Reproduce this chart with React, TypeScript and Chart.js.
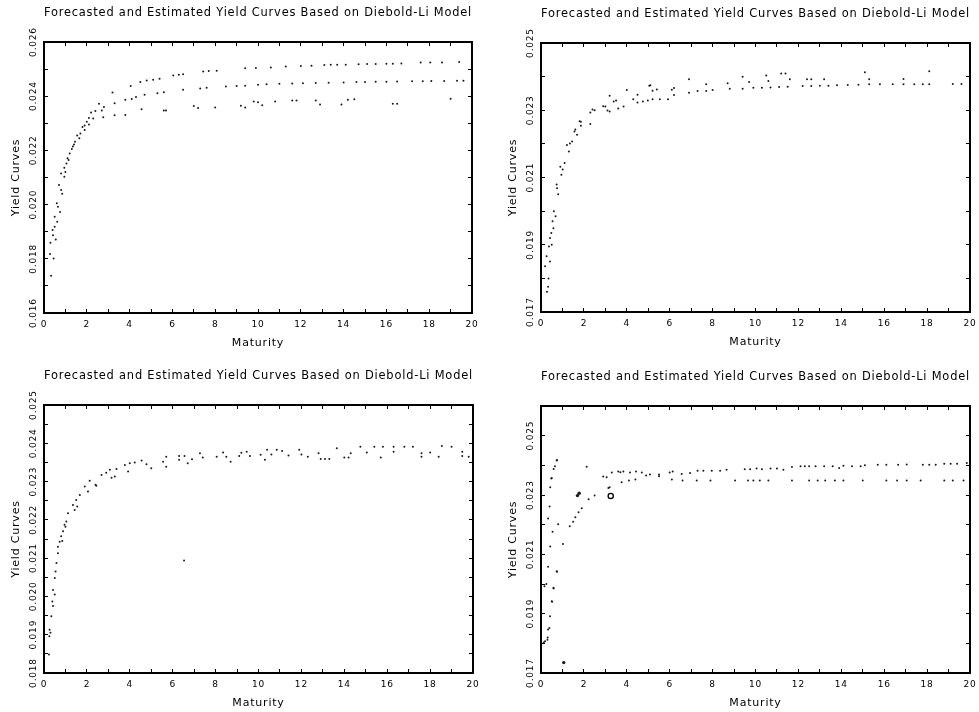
import React, { useEffect, useRef } from 'react';
import { Chart, registerables } from 'chart.js';

Chart.register(...registerables);

const TITLE = 'Forecasted and Estimated Yield Curves Based on Diebold-Li Model';
const X_LABEL = 'Maturity';
const Y_LABEL = 'Yield Curves';
const X_TICK_LABELS = ['0', '2', '4', '6', '8', '10', '12', '14', '16', '18', '20'];

// ---------- Panel 1 (top-left) ----------
const p1YTicks = ['0.016', '0.018', '0.020', '0.022', '0.024', '0.026'];
const p1MatA = [0.33, 0.45, 0.55, 0.62, 0.75, 0.85, 0.95, 1.05, 1.2, 1.35, 1.55, 1.8, 2.0, 2.2, 2.57, 3.2, 4.05, 4.5, 4.8, 5.1, 5.4, 6.04, 6.3, 6.5, 7.44, 7.7, 8.07, 9.4, 9.9, 10.6, 11.3, 12.0, 12.5, 13.1, 13.4, 13.7, 14.1, 14.7, 15.1, 15.5, 16.0, 16.3, 16.7, 17.6, 18.05, 18.6, 19.4];
const p1YldA = [0.01737, 0.01801, 0.01871, 0.01937, 0.01973, 0.0204, 0.02103, 0.02152, 0.02189, 0.02214, 0.02255, 0.02286, 0.02306, 0.0234, 0.02372, 0.02414, 0.02438, 0.02452, 0.02458, 0.02461, 0.02464, 0.02476, 0.02479, 0.02481, 0.02491, 0.02493, 0.02494, 0.02503, 0.02504, 0.02506, 0.0251, 0.02511, 0.02512, 0.02515, 0.02516, 0.02516, 0.02516, 0.02518, 0.02519, 0.02519, 0.0252, 0.0252, 0.02521, 0.02524, 0.02524, 0.02524, 0.02526];
const p1MatB = [0.3, 0.4, 0.5, 0.6, 0.7, 0.8, 0.95, 1.1, 1.3, 1.45, 1.7, 1.9, 2.1, 2.4, 2.8, 3.3, 3.8, 4.1, 4.3, 4.7, 5.3, 5.6, 6.5, 7.3, 7.6, 8.5, 9.0, 9.4, 10.0, 10.4, 11.0, 11.6, 12.1, 12.7, 13.3, 14.0, 14.6, 15.0, 15.5, 16.0, 16.5, 17.2, 17.7, 18.1, 18.7, 19.3, 19.6];
const p1YldB = [0.01859, 0.01906, 0.01955, 0.02005, 0.02072, 0.02115, 0.02136, 0.02171, 0.02205, 0.02232, 0.02262, 0.02292, 0.0232, 0.02345, 0.0236, 0.02374, 0.02387, 0.0239, 0.02397, 0.02405, 0.02411, 0.02415, 0.02424, 0.02428, 0.02431, 0.02436, 0.02438, 0.02439, 0.02442, 0.02444, 0.02446, 0.02447, 0.02448, 0.02449, 0.0245, 0.02451, 0.02452, 0.02452, 0.02453, 0.02453, 0.02454, 0.02455, 0.02455, 0.02456, 0.02456, 0.02457, 0.02457];
const p1MatC = [0.28, 0.42, 0.5, 0.65, 0.8, 1.0, 1.15, 1.4, 1.65, 1.9, 2.1, 2.3, 2.7, 2.77, 3.3, 3.8, 4.56, 5.6, 5.7, 7.0, 7.2, 8.0, 9.2, 9.4, 9.8, 10.0, 10.2, 10.8, 11.6, 11.8, 12.7, 12.9, 13.9, 14.2, 14.5, 16.3, 16.5, 19.0];
const p1YldC = [0.01818, 0.01887, 0.01918, 0.01992, 0.02054, 0.0212, 0.02165, 0.02222, 0.02245, 0.02275, 0.02296, 0.02318, 0.02347, 0.02322, 0.0233, 0.02331, 0.02352, 0.02347, 0.02347, 0.02364, 0.02356, 0.02358, 0.02365, 0.02358, 0.0238, 0.02378, 0.02367, 0.0238, 0.02384, 0.02384, 0.02384, 0.02369, 0.02369, 0.02387, 0.02389, 0.02372, 0.02372, 0.02391];

// ---------- Panel 2 (top-right) ----------
const p2YTicks = ['0.017', '0.019', '0.021', '0.023', '0.025'];
const p2MatA = [0.28, 0.35, 0.42, 0.5, 0.58, 0.68, 0.8, 0.95, 1.1, 1.3, 1.45, 1.68, 1.86, 2.3, 2.5, 3.0, 3.2, 3.6, 3.85, 4.3, 4.5, 4.75, 4.98, 5.2, 5.54, 5.92, 6.2, 6.9, 7.3, 7.7, 8.0, 8.8, 9.4, 9.9, 10.3, 10.7, 11.1, 11.5, 12.2, 12.6, 13.0, 13.4, 13.8, 14.3, 14.8, 15.3, 15.8, 16.4, 16.9, 17.4, 17.8, 18.1, 19.2, 19.6];
const p2YldA = [0.0176, 0.018, 0.0185, 0.019, 0.01949, 0.01985, 0.0205, 0.02108, 0.02143, 0.02177, 0.02207, 0.02227, 0.02254, 0.02259, 0.023, 0.02311, 0.02296, 0.02305, 0.02311, 0.02333, 0.02323, 0.02326, 0.02329, 0.02333, 0.02333, 0.02333, 0.02345, 0.02352, 0.02357, 0.02357, 0.0236, 0.02364, 0.02364, 0.02367, 0.02367, 0.02368, 0.02369, 0.0237, 0.02372, 0.02372, 0.02373, 0.02373, 0.02374, 0.02375, 0.02376, 0.02377, 0.02377, 0.02377, 0.02377, 0.02377, 0.02377, 0.02377, 0.02378, 0.02378];
const p2MatB = [0.19, 0.26, 0.33, 0.37, 0.42, 0.48, 0.54, 0.6, 0.73, 0.75, 0.9, 1.01, 1.21, 1.35, 1.56, 1.6, 1.8, 1.86, 2.3, 2.4, 2.9, 3.1, 3.2, 3.39, 3.5, 4.0, 4.5, 5.05, 5.1, 5.2, 5.4, 6.1, 6.2, 6.9, 7.7, 8.7, 9.4, 9.7, 10.5, 10.6, 11.2, 11.4, 11.6, 12.4, 12.6, 13.2, 15.1, 15.3, 16.9, 18.1];
const p2YldB = [0.01836, 0.01866, 0.01775, 0.01895, 0.0192, 0.01935, 0.0197, 0.02, 0.02079, 0.02068, 0.02132, 0.02124, 0.02197, 0.02201, 0.02237, 0.02243, 0.02267, 0.02266, 0.02293, 0.02302, 0.02312, 0.02299, 0.02343, 0.02326, 0.02329, 0.0236, 0.02346, 0.02373, 0.02374, 0.02358, 0.02362, 0.02361, 0.02366, 0.02392, 0.02377, 0.0238, 0.024, 0.02384, 0.02403, 0.02387, 0.02409, 0.02409, 0.02392, 0.02392, 0.02392, 0.02392, 0.02413, 0.02392, 0.02393, 0.02416];

// ---------- Panel 3 (bottom-left) ----------
const p3YTicks = ['0.018', '0.019', '0.020', '0.021', '0.022', '0.023', '0.024', '0.025'];
const p3MatA = [0.23, 0.26, 0.34, 0.39, 0.42, 0.5, 0.54, 0.58, 0.65, 0.73, 0.8, 0.89, 0.96, 1.04, 1.12, 1.35, 1.5, 1.67, 1.9, 2.13, 2.44, 2.68, 2.9, 3.07, 3.38, 3.77, 4.0, 4.23, 4.55, 4.78, 5.55, 5.7, 6.3, 6.55, 7.27, 8.35, 9.2, 9.45, 10.4, 10.85, 11.1, 11.9, 12.8, 13.65, 14.3, 14.75, 15.05, 15.4, 15.8, 16.3, 16.8, 17.2, 17.6, 18.0, 18.55, 19.0, 19.5];
const p3YldA = [0.01848, 0.01913, 0.01948, 0.01987, 0.02017, 0.02048, 0.02065, 0.02087, 0.0213, 0.02143, 0.02157, 0.0217, 0.02187, 0.02196, 0.02217, 0.02239, 0.02252, 0.02265, 0.02287, 0.02302, 0.02289, 0.02317, 0.02323, 0.02331, 0.02333, 0.02343, 0.02348, 0.0235, 0.02355, 0.02345, 0.02352, 0.02365, 0.02367, 0.02367, 0.02374, 0.02376, 0.02375, 0.02378, 0.02383, 0.02383, 0.0238, 0.02383, 0.02374, 0.02387, 0.02374, 0.02391, 0.02376, 0.02391, 0.02391, 0.02391, 0.02391, 0.02391, 0.02374, 0.02376, 0.02393, 0.02391, 0.02378];
const p3MatB = [0.25, 0.3, 0.42, 0.5, 0.65, 0.85, 1.0, 1.43, 1.55, 2.05, 2.4, 3.15, 3.3, 3.92, 5.0, 5.7, 6.3, 6.53, 6.7, 6.9, 7.4, 8.05, 8.5, 8.7, 9.1, 9.6, 10.1, 10.3, 10.6, 11.4, 12.0, 12.3, 12.9, 13.1, 13.3, 14.0, 14.2, 15.7, 16.3, 17.6, 18.4, 19.5, 19.8];
const p3YldB = [0.01896, 0.01905, 0.01975, 0.02005, 0.02113, 0.02145, 0.02182, 0.02226, 0.02235, 0.02274, 0.02292, 0.0231, 0.02313, 0.02326, 0.02335, 0.02339, 0.02357, 0.02094, 0.02348, 0.02358, 0.02363, 0.02365, 0.02365, 0.02352, 0.02367, 0.02367, 0.0237, 0.02357, 0.02371, 0.02368, 0.02371, 0.02365, 0.02359, 0.02359, 0.02359, 0.02363, 0.02363, 0.02363, 0.02378, 0.02365, 0.02365, 0.02367, 0.02365];

// ---------- Panel 4 (bottom-right) ----------
const p4YTicks = ['0.017', '0.019', '0.021', '0.023', '0.025'];
const p4MatA = [0.16, 0.25, 0.33, 0.4, 0.43, 0.48, 0.5, 0.59, 0.65, 0.73, 0.75, 2.13, 3.06, 3.3, 3.6, 3.84, 4.15, 4.43, 4.7, 5.08, 5.5, 6.0, 6.14, 6.56, 6.95, 7.3, 7.57, 7.96, 8.35, 8.65, 9.5, 9.75, 10.05, 10.3, 10.7, 11.0, 11.3, 11.7, 12.1, 12.3, 12.5, 12.8, 13.2, 13.6, 13.9, 14.1, 14.5, 14.9, 15.1, 15.7, 16.1, 16.65, 17.05, 17.8, 18.1, 18.4, 18.8, 19.1, 19.4, 19.85];
const p4YldA = [0.01992, 0.02, 0.02221, 0.02261, 0.02326, 0.02356, 0.02357, 0.02388, 0.02397, 0.02416, 0.02418, 0.02395, 0.0236, 0.02376, 0.02379, 0.02379, 0.02376, 0.02379, 0.02376, 0.02369, 0.02369, 0.02376, 0.02379, 0.02371, 0.02374, 0.02382, 0.02382, 0.02382, 0.02382, 0.02385, 0.02387, 0.02387, 0.02389, 0.02387, 0.02389, 0.02389, 0.02385, 0.02394, 0.02397, 0.02397, 0.02397, 0.02397, 0.02397, 0.02397, 0.02391, 0.02399, 0.02397, 0.02397, 0.024, 0.02402, 0.02402, 0.02402, 0.02403, 0.02402, 0.02402, 0.02402, 0.02405, 0.02405, 0.02405, 0.02408];
const p4MatB = [0.13, 0.19, 0.3, 0.31, 0.33, 0.33, 0.39, 0.42, 0.43, 0.5, 0.52, 0.54, 0.58, 0.59, 0.73, 0.75, 0.8, 1.03, 1.34, 1.5, 1.6, 1.75, 1.9, 2.22, 2.5, 2.9, 3.14, 3.2, 3.7, 3.76, 4.1, 4.4, 4.9, 5.5, 6.1, 6.6, 7.26, 7.9, 9.05, 9.65, 9.9, 10.2, 10.6, 11.7, 12.5, 12.9, 13.25, 13.7, 14.1, 15.0, 16.1, 16.6, 17.05, 17.7, 18.8, 19.2, 19.7];
const p4YldB = [0.01803, 0.01807, 0.01812, 0.0182, 0.01847, 0.02058, 0.01852, 0.01891, 0.02126, 0.01942, 0.0194, 0.02176, 0.01987, 0.01985, 0.02043, 0.02041, 0.02201, 0.02135, 0.02195, 0.0221, 0.02225, 0.02242, 0.02255, 0.02286, 0.02298, 0.02362, 0.02324, 0.02326, 0.02377, 0.02343, 0.02349, 0.02352, 0.02366, 0.02363, 0.02352, 0.02349, 0.02349, 0.02349, 0.02349, 0.02349, 0.02349, 0.02349, 0.02349, 0.02349, 0.02349, 0.02349, 0.02349, 0.02349, 0.02349, 0.02349, 0.02349, 0.02349, 0.02349, 0.02349, 0.02349, 0.02349, 0.02349];
const p4MatBold = [1.06, 1.7, 1.78];
const p4YldBold = [0.01735, 0.02298, 0.02306];
const p4MatRing = [3.25];
const p4YldRing = [0.02297];

const zip = (xs: number[], ys: number[]) => xs.map((x, i) => ({ x, y: ys[i] }));

type Series = { mat: number[]; yld: number[]; radius?: number; ring?: boolean };
type PanelCfg = {
  area: { L: number; T: number; R: number; B: number };
  yMin: number;
  yMax: number;
  yStep: number;
  yTicks: string[];
  series: Series[];
};

const PANELS: PanelCfg[] = [
  {
    area: { L: 44, T: 42, R: 472, B: 313 },
    yMin: 0.016, yMax: 0.026, yStep: 0.001, yTicks: p1YTicks,
    series: [{ mat: p1MatA, yld: p1YldA }, { mat: p1MatB, yld: p1YldB }, { mat: p1MatC, yld: p1YldC }],
  },
  {
    area: { L: 541, T: 43, R: 970, B: 312 },
    yMin: 0.017, yMax: 0.025, yStep: 0.001, yTicks: p2YTicks,
    series: [{ mat: p2MatA, yld: p2YldA }, { mat: p2MatB, yld: p2YldB }],
  },
  {
    area: { L: 44, T: 405, R: 473, B: 673 },
    yMin: 0.018, yMax: 0.025, yStep: 0.0005, yTicks: p3YTicks,
    series: [{ mat: p3MatA, yld: p3YldA }, { mat: p3MatB, yld: p3YldB }],
  },
  {
    area: { L: 541, T: 406, R: 970, B: 673 },
    yMin: 0.017, yMax: 0.026, yStep: 0.001, yTicks: p4YTicks,
    series: [
      { mat: p4MatA, yld: p4YldA },
      { mat: p4MatB, yld: p4YldB },
      { mat: p4MatBold, yld: p4YldBold, radius: 1.7 },
      { mat: p4MatRing, yld: p4YldRing, radius: 2.6, ring: true },
    ],
  },
];

const FONT = 'DejaVu Sans';
const Y_AXIS_W = 44;
const TOP_H = 42;
const BOTTOM_H = 43;
const RIGHT_PAD = 20;

const spacingPlugin = {
  id: 'letterSpacing',
  beforeUpdate(chart: any) {
    chart.ctx.letterSpacing = '0.8px';
  },
  beforeDraw(chart: any) {
    chart.ctx.letterSpacing = '0.8px';
  },
};

function Panel({ cfg }: { cfg: PanelCfg }) {
  const ref = useRef<HTMLCanvasElement | null>(null);
  const { L, T, R, B } = cfg.area;
  const left = L - Y_AXIS_W;
  const top = T - TOP_H;
  const width = R - L + Y_AXIS_W + RIGHT_PAD;
  const height = B - T + TOP_H + BOTTOM_H;

  useEffect(() => {
    if (!ref.current) return;
    const tickFont = { family: FONT, size: 9 };
    const labelFont = { family: FONT, size: 11 };
    const gridCommon = { drawOnChartArea: false, drawTicks: true, tickLength: -4, color: '#000', tickColor: '#000', tickWidth: 1 };
    const borderCommon = { display: true, color: '#000', width: 2 };
    const yLabel = (v: any) => {
      const s = Number(v).toFixed(3);
      const exact = Math.abs(Number(s) - Number(v)) < 1e-7;
      return exact && cfg.yTicks.includes(s) ? s : '';
    };
    const xLabel = (v: any) => {
      const s = String(Math.round(Number(v)));
      return Math.abs(Number(v) - Math.round(Number(v))) < 1e-6 && X_TICK_LABELS.includes(s) ? s : '';
    };
    const datasets = cfg.series.map((s) => ({
      type: 'scatter' as const,
      data: zip(s.mat, s.yld),
      pointRadius: s.radius ?? 1,
      pointHoverRadius: 0,
      pointBackgroundColor: s.ring ? 'rgba(0,0,0,0)' : '#1a1a1a',
      pointBorderColor: '#000',
      pointBorderWidth: s.ring ? 1.3 : 0,
      showLine: false,
    }));
    const titleLine = 11.5 * 1.2;
    const titleTop = 13.3 - titleLine / 2;
    const titleBottom = 10;
    const chart = new Chart(ref.current, {
      type: 'scatter',
      data: { datasets },
      plugins: [spacingPlugin],
      options: {
        animation: false,
        responsive: false,
        devicePixelRatio: 1,
        events: [],
        layout: { padding: { left: 0, top: 0, right: RIGHT_PAD, bottom: 0 } },
        plugins: {
          legend: { display: false },
          tooltip: { enabled: false },
          title: {
            display: true,
            text: TITLE,
            fullSize: false,
            color: '#000',
            font: { family: FONT, size: 11.5, weight: 'normal' },
            padding: { top: titleTop, bottom: titleBottom },
          },
        },
        scales: {
          x: {
            type: 'linear',
            position: 'bottom',
            min: 0,
            max: 20,
            ticks: { stepSize: 1, autoSkip: false, maxRotation: 0, minRotation: 0, padding: 10, color: '#000', font: tickFont, callback: xLabel },
            grid: gridCommon,
            border: borderCommon,
            title: { display: true, text: X_LABEL, color: '#000', font: labelFont, padding: { top: 0, bottom: 5.9 } },
            afterFit: (s: any) => { s.height = BOTTOM_H; },
          },
          x2: {
            type: 'linear',
            position: 'top',
            min: 0,
            max: 20,
            ticks: { display: false, stepSize: 1 },
            grid: gridCommon,
            border: borderCommon,
            afterFit: (s: any) => { s.height = TOP_H - (titleTop + titleLine + titleBottom); },
          },
          y: {
            type: 'linear',
            position: 'left',
            min: cfg.yMin,
            max: cfg.yMax,
            ticks: { stepSize: cfg.yStep, autoSkip: false, minRotation: 90, maxRotation: 90, crossAlign: 'center', padding: -1, color: '#000', font: tickFont, callback: yLabel },
            grid: gridCommon,
            border: borderCommon,
            title: { display: true, text: Y_LABEL, color: '#000', font: labelFont, padding: { top: 9.4, bottom: 0 } },
            afterFit: (s: any) => { s.width = Y_AXIS_W; },
          },
          y2: {
            type: 'linear',
            position: 'right',
            min: cfg.yMin,
            max: cfg.yMax,
            ticks: { display: false, stepSize: cfg.yStep },
            grid: gridCommon,
            border: borderCommon,
            afterFit: (s: any) => { s.width = 0; },
          },
        },
      } as any,
    });
    return () => chart.destroy();
  }, [cfg]);

  return (
    <canvas
      ref={ref}
      width={width}
      height={height}
      style={{ position: 'absolute', left, top, width, height }}
    />
  );
}

export default function App() {
  return (
    <div style={{ position: 'fixed', left: 0, top: 0, width: 979, height: 712, overflow: 'hidden', background: '#fff' }}>
      {PANELS.map((p, i) => (
        <Panel key={i} cfg={p} />
      ))}
    </div>
  );
}
